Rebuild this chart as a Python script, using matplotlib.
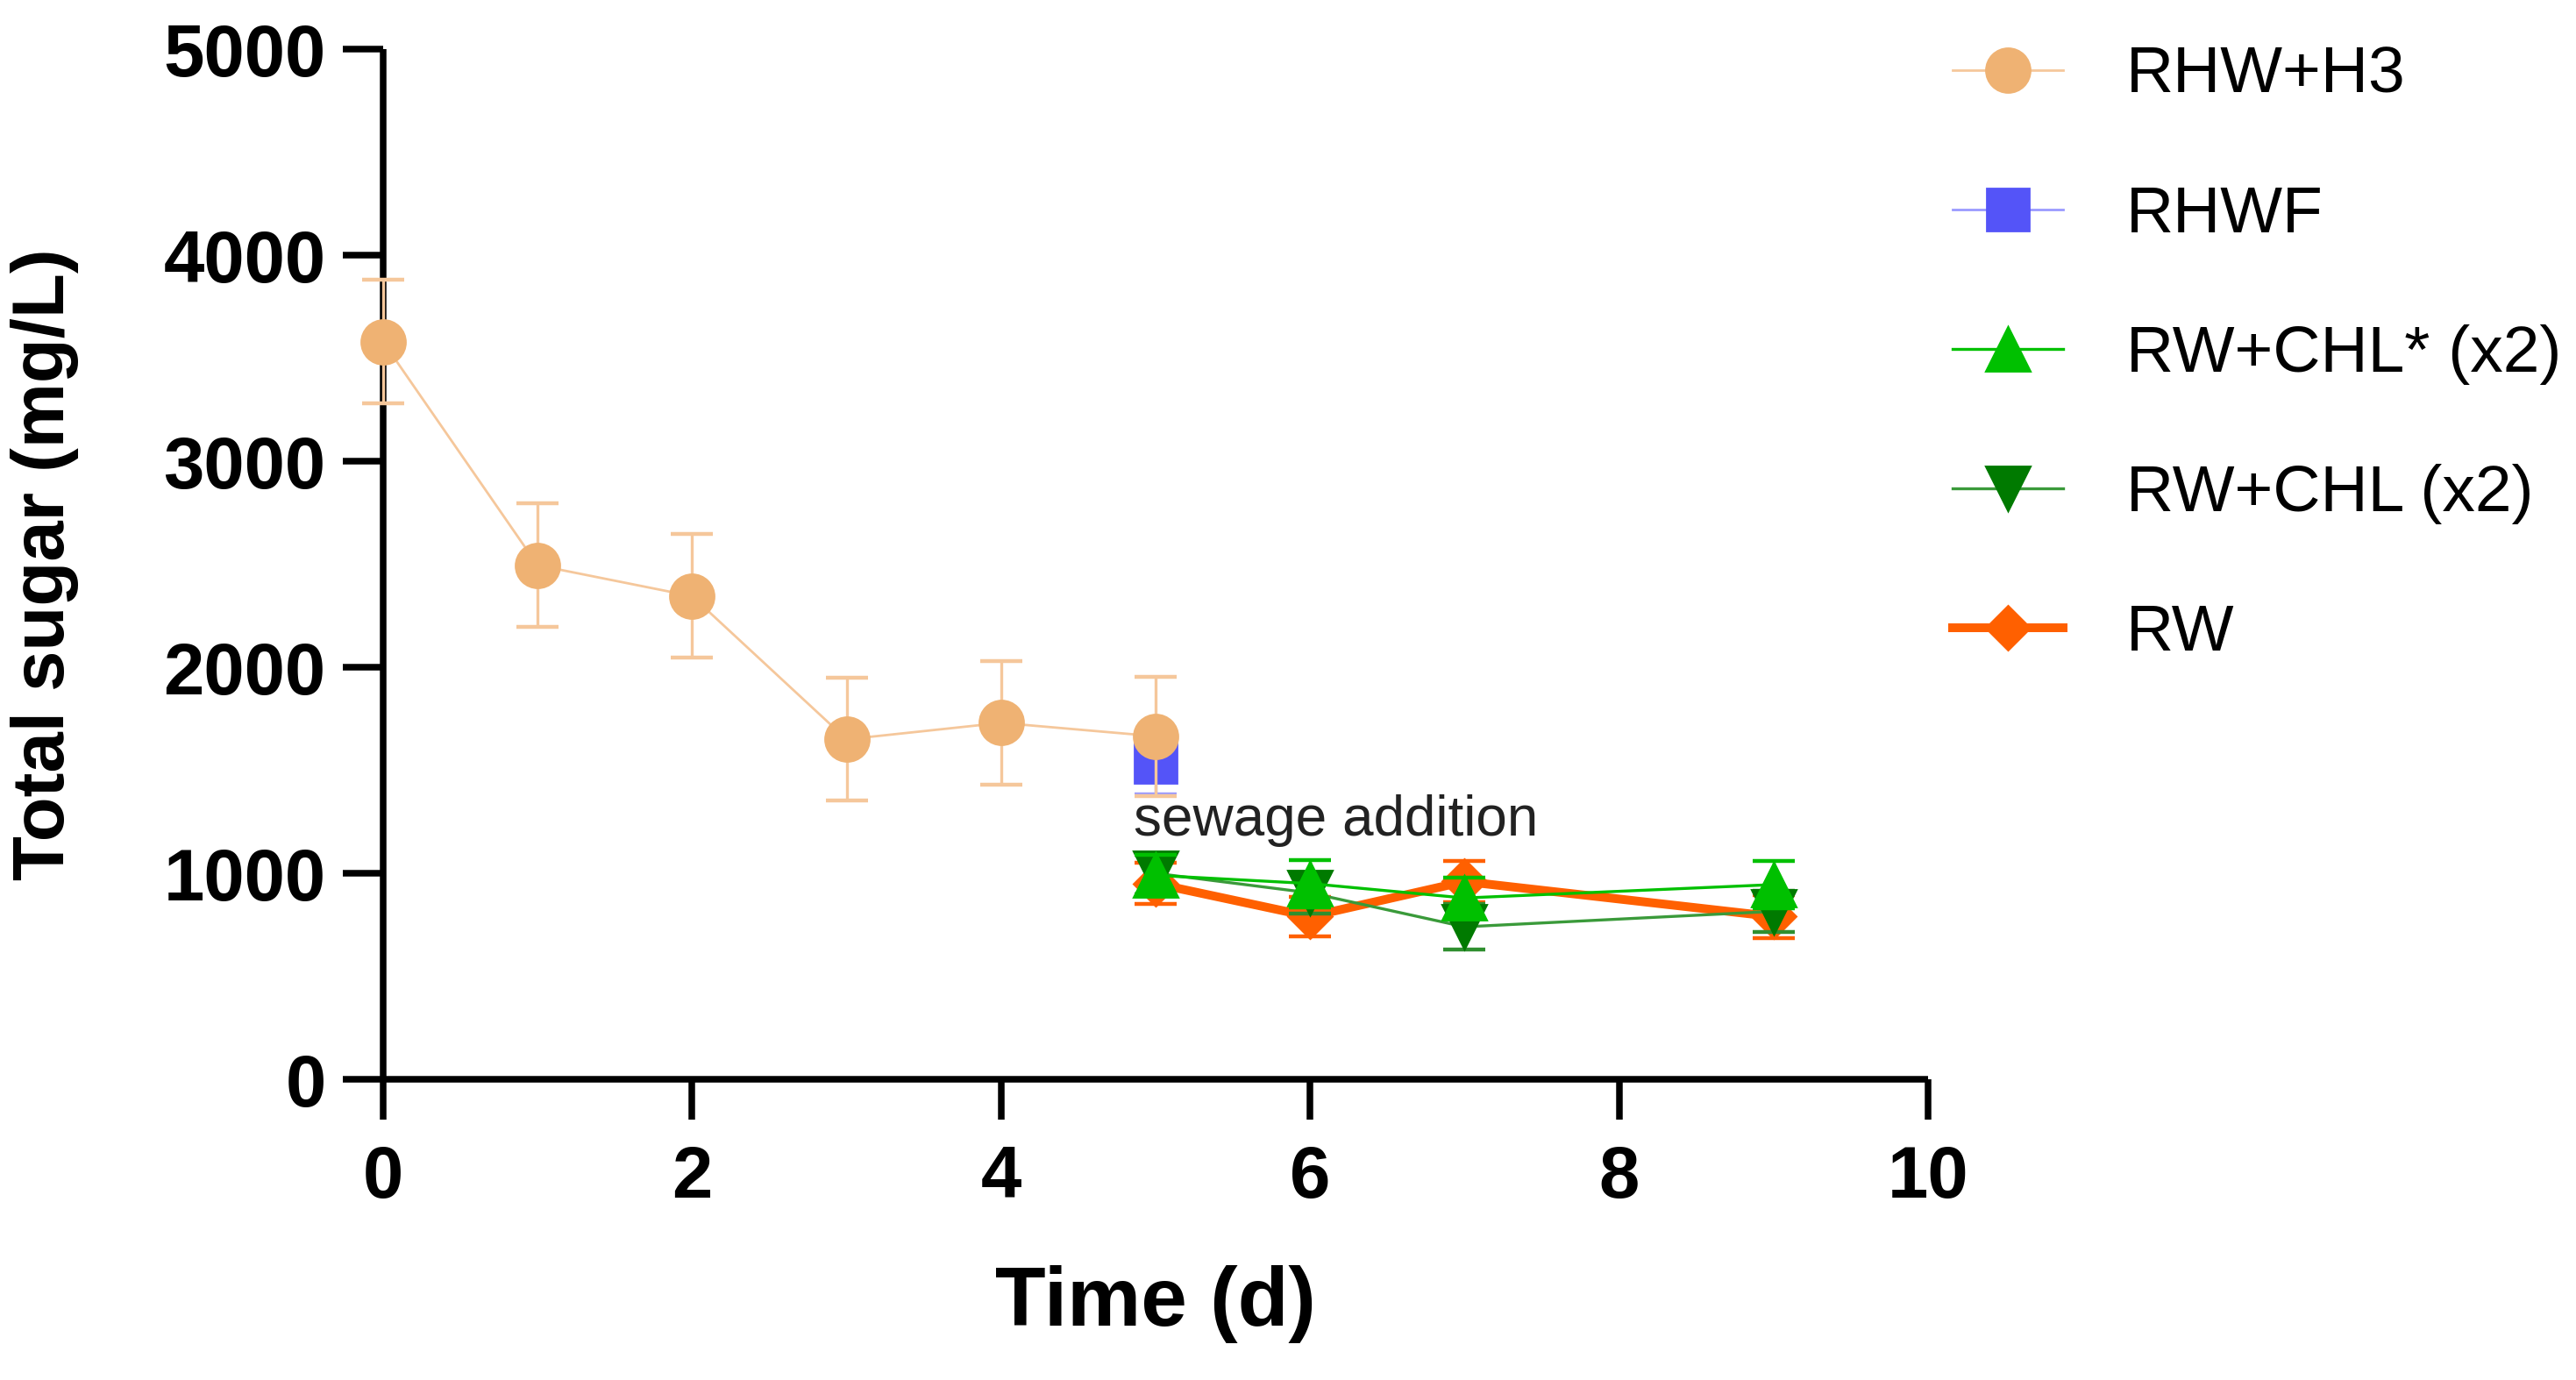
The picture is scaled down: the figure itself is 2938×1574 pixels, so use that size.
import matplotlib
matplotlib.use("Agg")
import matplotlib.pyplot as plt

plt.rcParams['font.family'] = ['Liberation Sans', 'DejaVu Sans']

# --- data ---
days_h3 = [0, 1, 2, 3, 4, 5]
h3_mean = [3580, 2495, 2345, 1650, 1730, 1665]
h3_sd = [300, 300, 300, 298, 300, 290]

days_rhwf = [5]
rhwf_mean = [1540]
rhwf_sd = [155]

days_rw = [5, 6, 7, 9]
chl_star_mean = [990, 950, 880, 945]
chl_star_sd = [100, 115, 100, 115]
chl_mean = [1000, 905, 740, 815]
chl_sd = [100, 100, 110, 100]
rw_mean = [950, 790, 960, 790]
rw_sd = [100, 95, 100, 105]

labels = ['RHW+H3', 'RHWF', 'RW+CHL* (x2)', 'RW+CHL (x2)', 'RW']

fig = plt.figure(figsize=(14.69, 7.87), dpi=200)
ax = fig.add_axes([0.1487, 0.2179, 0.5998, 0.7465])

# series: x, mean, sd, marker, ms, marker colour, line colour, line width, err colour, zorder
series = [
    (days_rw, rw_mean, rw_sd, 'D', 12.5, '#FF6000', '#FF6000', 3.6, '#FF6000', 3),
    (days_rw, chl_mean, chl_sd, 'v', 18, '#007A00', '#3A9A3A', 1.2, '#2F8F2F', 4),
    (days_rw, chl_star_mean, chl_star_sd, '^', 18, '#00C000', '#00C000', 1.2, '#00C000', 5),
    (days_rhwf, rhwf_mean, rhwf_sd, 's', 17.5, '#5454F8', '#9A9AFF', 1.0, '#9A9AFF', 6),
    (days_h3, h3_mean, h3_sd, 'o', 18, '#EFB273', '#F5C79B', 1.0, '#F5C79B', 7),
]

handles = {}
for (x, m, sd, mk, ms, mc, lc, lw, ec, z), lab in zip(series, ['RW', 'RW+CHL (x2)', 'RW+CHL* (x2)', 'RHWF', 'RHW+H3']):
    eb = ax.errorbar(x, m, yerr=sd, fmt='none', ecolor=ec, elinewidth=1.2,
                     capsize=8.6, capthick=1.6, zorder=z)
    for art in eb.get_children():
        art.set_clip_on(False)
    ln, = ax.plot(x, m, color=lc, lw=lw, marker=mk, ms=ms,
                  markerfacecolor=mc, markeredgecolor=mc, zorder=z + 0.5,
                  clip_on=False)
    handles[lab] = ln

ax.text(4.86, 1183, 'sewage addition', fontsize=23, color='#222222',
        ha='left', va='baseline', zorder=10)

ax.set_xlim(0, 10)
ax.set_ylim(0, 5000)
ax.set_xticks([0, 2, 4, 6, 8, 10])
ax.set_yticks([0, 1000, 2000, 3000, 4000, 5000])

for s in ['top', 'right']:
    ax.spines[s].set_visible(False)
for s in ['left', 'bottom']:
    ax.spines[s].set_linewidth(2.7)
    ax.spines[s].set_capstyle('butt')
ax.tick_params(axis='both', length=16.5, width=2.7, labelsize=30)
ax.tick_params(axis='y', pad=7)
ax.tick_params(axis='x', pad=10)
for t in ax.get_xticklabels() + ax.get_yticklabels():
    t.set_fontweight('bold')

ax.set_ylabel('Total sugar (mg/L)', fontsize=30, fontweight='bold')
ax.yaxis.set_label_coords(-0.197, 0.5)
ax.set_xlabel('Time (d)', fontsize=34, fontweight='bold')
ax.xaxis.set_label_coords(0.5, -0.18)

fig.legend([handles[l] for l in labels], labels, loc='upper left',
           bbox_to_anchor=(0.758, 0.967), frameon=False, fontsize=27,
           borderpad=0, borderaxespad=0, handlelength=1.68,
           handletextpad=0.96, labelspacing=1.2, numpoints=1)

fig.savefig('out.png', dpi=200)
